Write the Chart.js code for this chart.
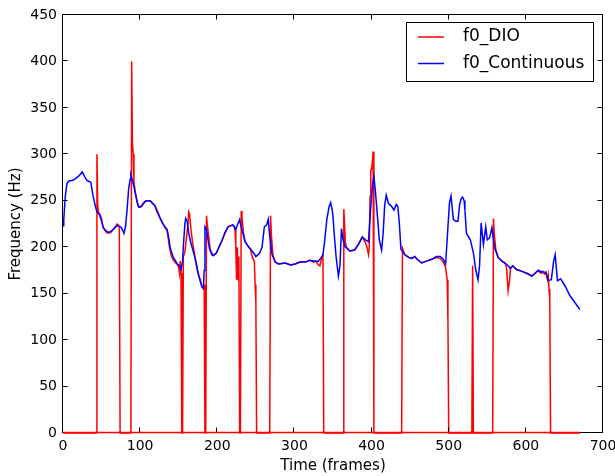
<!DOCTYPE html>
<html>
<head>
<meta charset="utf-8">
<script src="https://cdn.jsdelivr.net/npm/chart.js@4/dist/chart.umd.min.js"></script>
<style>
  body { margin: 0; background: #fff; }
</style>
</head>
<body>
<canvas id="f0-chart" width="615" height="476"></canvas>
<script>
// f0 continuous (blue)
const contFrames = [0,1,3,5,7,13,18,22,25,28,31,36,39,42,44,48,50,52,55,59,62,65,68,70,75,77,79,81,83,85,87,88,90,92,95,98,102,106,109,113,116,119,122,126,129,132,135,137,139,143,146,148,151,153,155,156,158,159,161,163,165,168,170,173,175,178,180,182,183,184,186,188,190,193,195,199,202,206,210,214,217,220,222,224,226,229,230,232,236,240,242,247,250,253,255,258,261,264,266,268,271,275,279,288,295,301,307,314,320,327,331,334,337,339,342,345,347,349,350,352,354,357,359,361,363,366,368,372,378,383,386,388,392,396,399,401,403,405,407,410,413,415,417,419,422,426,429,432,434,436,438,443,448,452,456,459,465,471,478,484,489,493,496,499,501,503,506,509,512,514,516,518,520,521,523,528,532,535,538,540,542,545,548,550,553,556,558,560,564,569,573,577,580,583,588,595,601,608,612,616,622,626,629,633,636,638,641,645,651,657,664,670];
const contValues = [223,230,255,268,271,272,275,278,281,276,272,270,255,244,238,235,230,221,218,216,217,219,222,223,222,219,215,222,240,262,273,278,272,265,253,243,244,249,250,250,247,245,238,231,226,222,219,210,199,189,185,182,180,176,185,201,225,231,228,215,207,198,192,182,172,163,158,156,175,222,219,208,198,192,191,194,200,207,216,222,223,224,222,219,224,230,225,219,206,201,199,194,190,192,194,200,222,224,230,212,192,184,182,183,181,182,184,184,186,185,185,188,192,205,230,244,248,240,233,210,190,169,180,220,208,200,199,196,197,203,208,211,208,206,244,265,276,260,240,208,197,215,245,256,247,244,240,246,244,226,198,192,189,188,190,187,183,185,187,190,190,187,182,222,248,255,230,228,228,245,252,254,250,240,215,208,194,176,165,180,226,203,222,208,210,221,208,198,189,185,183,180,177,180,176,174,172,169,172,175,173,173,164,165,185,192,164,166,158,148,140,133];

// f0 DIO (red), zero where unvoiced
const dioFrames = [0,43,44,45,46,48,52,56,59,62,65,68,70,72,73,74,88,89,90,91,92,94,97,100,105,108,113,119,123,126,130,133,135,138,140,143,146,148,150,151,152,153,154,155,156,158,160,162,163,164,166,168,170,173,176,178,180,182,183,184,185,186,187,189,191,195,199,206,210,214,220,222,223,224,225,226,227,228,229,230,231,232,234,236,240,243,244,246,248,249,250,251,268,269,270,272,275,280,288,295,301,307,314,320,325,328,331,333,336,337,338,363,364,365,366,368,372,378,383,388,392,394,396,397,398,399,400,401,402,403,439,440,443,448,452,456,459,465,471,478,484,489,493,496,498,499,500,530,531,532,557,558,559,561,564,569,573,575,577,579,580,583,588,595,601,608,612,616,618,620,622,624,626,628,629,630,631,632,670];
const dioValues = [0,0,300,245,238,233,222,216,215,216,219,222,225,224,222,0,0,400,312,300,270,258,245,243,248,250,250,245,238,231,225,220,218,200,192,186,183,182,178,172,185,172,0,0,190,195,210,225,238,236,218,205,195,180,170,165,157,155,160,0,0,234,225,210,197,191,194,207,215,222,224,222,218,200,165,200,165,190,0,0,239,232,215,206,201,198,194,188,185,160,142,0,0,234,215,192,184,182,183,181,182,184,184,186,184,185,181,180,190,193,0,0,241,225,205,199,196,197,203,211,205,200,192,200,255,283,284,292,303,0,0,199,192,189,188,190,187,183,185,187,189,188,184,178,165,120,0,0,180,0,0,231,215,198,189,185,183,178,153,165,177,180,176,174,172,169,172,175,173,172,174,171,173,165,170,155,145,0,0];

const xTicks = [0, 100, 200, 300, 400, 500, 600, 700];
const yTicks = [0, 50, 100, 150, 200, 250, 300, 350, 400, 450];

const FONT = "'DejaVu Sans', sans-serif";

function toPoints(xs, ys) {
  return xs.map((x, i) => ({ x: x, y: ys[i] }));
}

// frame, inward ticks on all four sides, legend inside the axes
const framePlugin = {
  id: 'frame',
  afterDatasetsDraw(chart) {
    const { ctx, chartArea: a, scales: { x, y } } = chart;
    const L = Math.round(a.left) - 0.5, R = Math.round(a.right) - 0.5;
    const T = Math.round(a.top) - 0.5, B = Math.round(a.bottom) - 0.5;
    ctx.save();
    ctx.strokeStyle = '#000';
    ctx.lineWidth = 1;
    ctx.strokeRect(L, T, R - L, B - T);
    ctx.beginPath();
    xTicks.forEach(v => {
      const px = Math.round(x.getPixelForValue(v)) - 0.5;
      ctx.moveTo(px, B); ctx.lineTo(px, B - 5);
      ctx.moveTo(px, T); ctx.lineTo(px, T + 5);
    });
    yTicks.forEach(v => {
      const py = Math.round(y.getPixelForValue(v)) - 0.5;
      ctx.moveTo(L, py); ctx.lineTo(L + 5, py);
      ctx.moveTo(R, py); ctx.lineTo(R - 5, py);
    });
    ctx.stroke();

    // redraw the red zero line over the bottom spine, like the reference
    ctx.strokeStyle = '#ff0000';
    ctx.lineWidth = 1.5;
    ctx.beginPath();
    ctx.moveTo(x.getPixelForValue(0), B);
    ctx.lineTo(x.getPixelForValue(dioFrames[dioFrames.length - 1]), B);
    ctx.stroke();

    // legend box
    const bx = 406.5, by = 22.5, bw = 187, bh = 59;
    ctx.strokeStyle = '#000';
    ctx.lineWidth = 1;
    ctx.fillStyle = '#fff';
    ctx.fillRect(bx, by, bw, bh);
    ctx.strokeRect(bx, by, bw, bh);
    ctx.font = '17px ' + FONT;
    ctx.textBaseline = 'middle';
    ctx.textAlign = 'left';
    const items = [chart.data.datasets[0], chart.data.datasets[1]];
    items.forEach((ds, i) => {
      const ly = 37 + i * 26.5;
      ctx.strokeStyle = ds.borderColor;
      ctx.lineWidth = 1.5;
      ctx.beginPath();
      ctx.moveTo(418, ly); ctx.lineTo(444, ly);
      ctx.stroke();
      ctx.fillStyle = '#000';
      ctx.fillText(ds.label, 463, ly);
    });
    ctx.restore();
  }
};

const ctx = document.getElementById('f0-chart').getContext('2d');
const chart = new Chart(ctx, {
  type: 'line',
  data: {
    datasets: [{
      label: 'f0_DIO',
      data: toPoints(dioFrames, dioValues),
      borderColor: '#ff0000',
      borderWidth: 1.5,
      pointRadius: 0,
      tension: 0,
      clip: 3,
      order: 2
    }, {
      label: 'f0_Continuous',
      data: toPoints(contFrames, contValues),
      borderColor: '#0000ff',
      borderWidth: 1.5,
      pointRadius: 0,
      tension: 0,
      order: 1
    }]
  },
  options: {
    responsive: false,
    animation: false,
    layout: { padding: 0 },
    plugins: {
      legend: { display: false },
      tooltip: { enabled: false }
    },
    scales: {
      x: {
        type: 'linear',
        min: 0,
        max: 700,
        grid: { display: false, drawTicks: false },
        border: { display: false },
        ticks: {
          stepSize: 100,
          maxRotation: 0,
          padding: 5,
          color: '#000',
          font: { family: FONT, size: 14 }
        },
        title: {
          display: true,
          text: 'Time (frames)',
          color: '#000',
          font: { family: FONT, size: 15 },
          padding: { top: 0, bottom: 1 }
        },
        afterFit(scale) {
          scale.height = 43;
          scale.paddingLeft = 0;
          scale.paddingRight = 12;
        }
      },
      y: {
        min: 0,
        max: 450,
        grid: { display: false, drawTicks: false },
        border: { display: false },
        ticks: {
          stepSize: 50,
          padding: 6,
          color: '#000',
          font: { family: FONT, size: 14 }
        },
        title: {
          display: true,
          text: 'Frequency (Hz)',
          color: '#000',
          font: { family: FONT, size: 15 },
          padding: { top: 7, bottom: 0 }
        },
        afterFit(scale) {
          scale.width = 63;
          scale.paddingTop = 15;
          scale.paddingBottom = 0;
        }
      }
    }
  },
  plugins: [framePlugin]
});
</script>
</body>
</html>
